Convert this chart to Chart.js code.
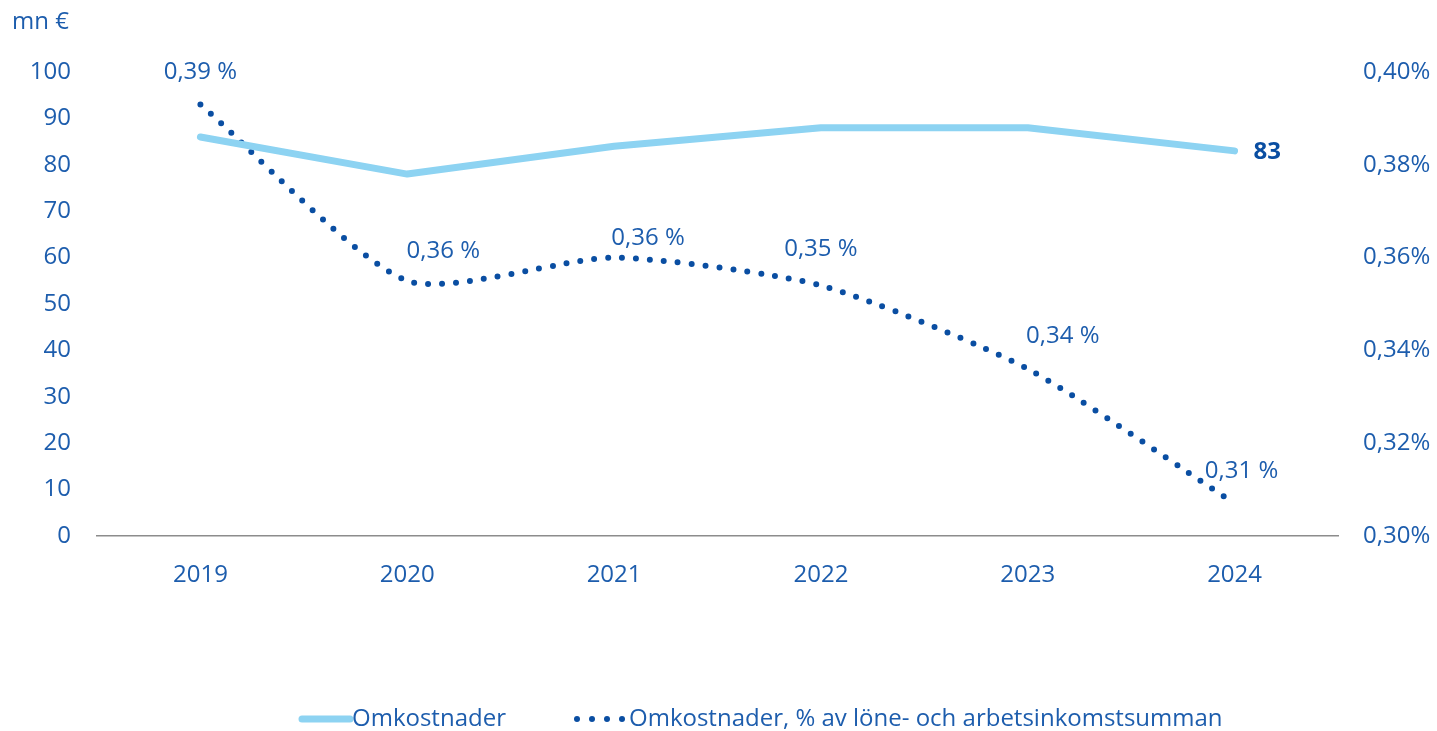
<!DOCTYPE html>
<html><head><meta charset="utf-8">
<script src="https://cdn.jsdelivr.net/npm/chart.js@4/dist/chart.umd.min.js"></script>
<style>html,body{margin:0;padding:0;background:#fff;}#wrap{width:1437px;height:731px;}</style>
</head><body><div id="wrap"><canvas id="c" width="1437" height="731"></canvas></div>
<script>
const categories = ['2019','2020','2021','2022','2023','2024'];
const costs = [86, 78, 84, 88, 88, 83];
const costShare = [0.393, 0.355, 0.360, 0.354, 0.336, 0.307];
const shareLabels = ['0,39 %','0,36 %','0,36 %','0,35 %','0,34 %','0,31 %'];
const leftTicks = [0,10,20,30,40,50,60,70,80,90,100];
const rightTicks = [0.30,0.32,0.34,0.36,0.38,0.40];
const seriesNames = ['Omkostnader','Omkostnader, % av löne- och arbetsinkomstsumman'];
const unitLabel = 'mn €';

const LIGHT = '#8DD3F2', DARK = '#0A4EA2', TXT = '#1D5DAD';
const FONT = '"Open Sans", "Noto Sans", sans-serif';
const FS = 24;
const labelOffsets = [[0,-32],[36,-30],[34,-19],[0,-36],[35,-33],[7,-32]];

const overlay = {
  id:'overlay',
  afterDatasetsDraw(chart){
    const ctx = chart.ctx;
    ctx.save();
    ctx.fillStyle = TXT;
    ctx.font = FS + 'px ' + FONT;
    ctx.textBaseline = 'middle';
    ctx.textAlign = 'left';
    ctx.fillText(unitLabel, 12, 22);
    const m2 = chart.getDatasetMeta(1);
    ctx.textAlign = 'center';
    m2.data.forEach((p,i)=>{
      ctx.fillText(shareLabels[i], p.x + labelOffsets[i][0], p.y + labelOffsets[i][1]);
    });
    const m1 = chart.getDatasetMeta(0);
    const last = m1.data[m1.data.length-1];
    ctx.font = 'bold ' + FS + 'px ' + FONT;
    ctx.fillStyle = DARK;
    ctx.textAlign = 'left';
    ctx.fillText(String(costs[costs.length-1]), last.x + 19, last.y + 1);
    const ly = 719;
    ctx.font = FS + 'px ' + FONT;
    ctx.fillStyle = TXT;
    ctx.strokeStyle = LIGHT; ctx.lineWidth = 7; ctx.lineCap = 'round';
    ctx.beginPath(); ctx.moveTo(302, ly); ctx.lineTo(350, ly); ctx.stroke();
    ctx.fillText(seriesNames[0], 352, ly);
    ctx.fillStyle = DARK;
    for (let k=0;k<4;k++){ ctx.beginPath(); ctx.arc(577 + k*15, ly, 3, 0, Math.PI*2); ctx.fill(); }
    ctx.fillStyle = TXT;
    ctx.fillText(seriesNames[1], 629, ly);
    ctx.restore();
  }
};

new Chart(document.getElementById('c'), {
  type:'line',
  data:{
    labels: categories,
    datasets:[
      {label: seriesNames[0], data: costs, yAxisID:'y', borderColor: LIGHT, borderWidth:7,
       borderCapStyle:'round', borderJoinStyle:'round', tension:0, pointRadius:0, fill:false},
      {label: seriesNames[1], data: costShare, yAxisID:'y2', borderColor: DARK, borderWidth:6,
       borderDash:[0,14], borderCapStyle:'round', tension:0.22, pointRadius:0, fill:false}
    ]
  },
  options:{
    responsive:false, animation:false,
    layout:{padding:{top:72, left:0, right:0, bottom:0}},
    plugins:{legend:{display:false}, tooltip:{enabled:false}},
    scales:{
      x:{
        offset:true,
        grid:{display:false, drawTicks:false},
        border:{display:true, color:'#8C8C8C', width:1.5},
        ticks:{color:TXT, font:{family:FONT, size:FS}, padding:25, maxRotation:0},
        afterFit(s){ s.height = 731 - 536; }
      },
      y:{
        position:'left', min:0, max:100,
        afterBuildTicks(s){ s.ticks = leftTicks.map(v=>({value:v})); },
        grid:{display:false, drawTicks:false}, border:{display:false},
        ticks:{color:TXT, font:{family:FONT, size:FS}, padding:26},
        afterFit(s){ s.width = 97; }
      },
      y2:{
        position:'right', min:0.30, max:0.40,
        afterBuildTicks(s){ s.ticks = rightTicks.map(v=>({value:v})); },
        grid:{display:false, drawTicks:false}, border:{display:false},
        ticks:{color:TXT, font:{family:FONT, size:FS}, padding:25,
          callback:(v)=> v.toFixed(2).replace('.',',') + '%'},
        afterFit(s){ s.width = 99; }
      }
    }
  },
  plugins:[overlay]
});
</script></body></html>
